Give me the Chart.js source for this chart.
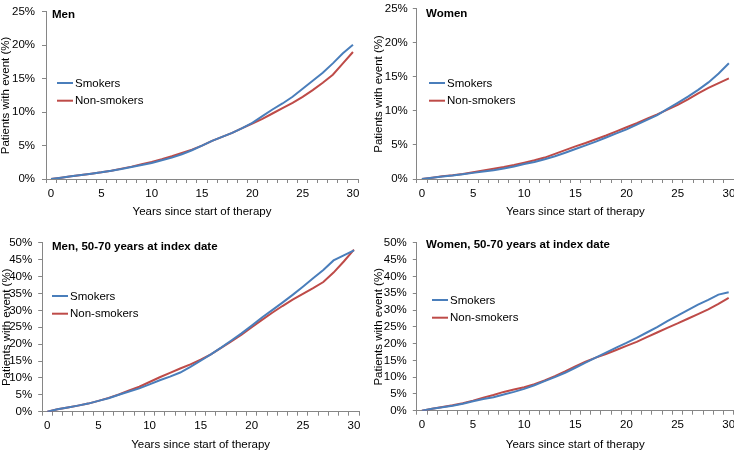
<!DOCTYPE html>
<html>
<head>
<meta charset="utf-8">
<script src="https://cdn.jsdelivr.net/npm/chart.js@4"></script>
<style>
  html, body { margin: 0; padding: 0; background: #fff; }
  body { width: 734px; height: 451px; position: relative; overflow: hidden; }
  canvas { position: absolute; }
</style>
</head>
<body>
<canvas id="men"></canvas>
<canvas id="women"></canvas>
<canvas id="men5070"></canvas>
<canvas id="women5070"></canvas>
<script>
// years since start of therapy
const years = Array.from({ length: 31 }, (_, i) => String(i));

// percent of patients with event
const menSmokers = [0, 0.2, 0.4, 0.6, 0.8, 1.0, 1.25, 1.5, 1.8, 2.1, 2.4, 2.8, 3.2, 3.7, 4.3, 5.0, 5.7, 6.3, 6.9, 7.6, 8.4, 9.4, 10.4, 11.3, 12.3, 13.5, 14.7, 15.9, 17.3, 18.8, 20.1];
const menNonSmokers = [0, 0.2, 0.4, 0.6, 0.8, 1.0, 1.25, 1.55, 1.85, 2.2, 2.55, 2.95, 3.4, 3.9, 4.4, 5.0, 5.7, 6.3, 6.9, 7.6, 8.3, 9.0, 9.8, 10.6, 11.4, 12.3, 13.3, 14.4, 15.6, 17.3, 19.0];
const womenSmokers = [0, 0.2, 0.35, 0.5, 0.7, 0.9, 1.1, 1.3, 1.55, 1.85, 2.2, 2.5, 2.9, 3.35, 3.85, 4.4, 4.95, 5.5, 6.1, 6.7, 7.3, 8.0, 8.7, 9.4, 10.3, 11.2, 12.1, 13.1, 14.2, 15.5, 17.0];
const womenNonSmokers = [0, 0.2, 0.4, 0.55, 0.75, 1.0, 1.25, 1.5, 1.75, 2.05, 2.4, 2.75, 3.15, 3.7, 4.25, 4.8, 5.3, 5.85, 6.4, 7.0, 7.6, 8.2, 8.85, 9.5, 10.2, 10.9, 11.7, 12.6, 13.4, 14.1, 14.8];
const men5070Smokers = [0, 0.7, 1.25, 1.8, 2.4, 3.2, 4.0, 5.0, 6.0, 6.9, 8.1, 9.3, 10.4, 11.6, 13.3, 15.1, 17.0, 19.0, 21.1, 23.2, 25.5, 27.9, 30.1, 32.3, 34.6, 37.0, 39.5, 42.0, 44.8, 46.3, 47.8];
const men5070NonSmokers = [0, 0.7, 1.25, 1.8, 2.4, 3.2, 4.1, 5.1, 6.3, 7.4, 8.8, 10.2, 11.5, 12.8, 14.0, 15.4, 17.0, 18.9, 20.8, 22.8, 25.0, 27.2, 29.3, 31.3, 33.2, 34.9, 36.6, 38.4, 41.2, 44.5, 48.0];
const women5070Smokers = [0, 0.6, 1.0, 1.5, 2.1, 2.8, 3.5, 4.0, 4.8, 5.6, 6.5, 7.6, 8.8, 10.0, 11.3, 12.8, 14.3, 15.8, 17.3, 18.8, 20.2, 21.7, 23.3, 24.9, 26.7, 28.3, 30.0, 31.6, 33.0, 34.6, 35.3];
const women5070NonSmokers = [0, 0.6, 1.1, 1.6, 2.2, 3.0, 3.9, 4.7, 5.6, 6.3, 7.0, 7.9, 9.0, 10.3, 11.7, 13.2, 14.6, 15.8, 16.9, 18.1, 19.3, 20.5, 21.9, 23.3, 24.7, 26.0, 27.4, 28.8, 30.2, 31.8, 33.6];

const seriesNames = ['Smokers', 'Non-smokers'];
const seriesColors = ['#4A7EBB', '#BE4B48'];

const FONT = 'Liberation Sans, Arial, sans-serif';
const AXIS_GREY = '#868686';

// panel placement, page pixels
const panels = [
  { id: 'men', title: 'Men', data: [menSmokers, menNonSmokers], yMax: 25,
    canvas: { x: 0, y: -2, w: 367, h: 227 }, plot: { l: 46, t: 5.8, r: 358, b: 179 },
    xTitleY: 212, yTitleX: 5.5, yTickPad: 7,
    titlePos: { x: 52, y: 15 }, legendPos: { x: 57, y: 83 } },
  { id: 'women', title: 'Women', data: [womenSmokers, womenNonSmokers], yMax: 25,
    canvas: { x: 367, y: -3, w: 380, h: 228 }, plot: { l: 416.8, t: 4.6, r: 734, b: 179 },
    xTitleY: 211.7, yTitleX: 379, yTickPad: 5,
    titlePos: { x: 426, y: 14 }, legendPos: { x: 429, y: 83 } },
  { id: 'men5070', title: 'Men, 50-70 years at index date', data: [men5070Smokers, men5070NonSmokers], yMax: 50,
    canvas: { x: 0, y: 230, w: 367, h: 221 }, plot: { l: 42.2, t: 238.3, r: 359.1, b: 411.7 },
    xTitleY: 445, yTitleX: 6.5, yTickPad: 6,
    titlePos: { x: 52, y: 246.7 }, legendPos: { x: 52, y: 296 } },
  { id: 'women5070', title: 'Women, 50-70 years at index date', data: [women5070Smokers, women5070NonSmokers], yMax: 50,
    canvas: { x: 367, y: 230, w: 380, h: 221 }, plot: { l: 416.8, t: 237.7, r: 733.8, b: 410.7 },
    xTitleY: 445, yTitleX: 379, yTickPad: 6,
    titlePos: { x: 426, y: 245 }, legendPos: { x: 432, y: 300 } }
];

// panel title + legend drawn inside the plot
const insideText = {
  id: 'insideText',
  afterDraw(chart, args, opts) {
    const ctx = chart.ctx;
    ctx.save();
    ctx.fillStyle = '#000';
    ctx.textBaseline = 'middle';
    ctx.textAlign = 'left';
    ctx.font = 'bold 11.5px ' + FONT;
    ctx.fillText(opts.title, opts.titleX, opts.titleY);
    ctx.font = '11.5px ' + FONT;
    chart.data.datasets.forEach((ds, i) => {
      const y = opts.legendY + i * 17.7;
      ctx.strokeStyle = ds.borderColor;
      ctx.lineWidth = 2;
      ctx.beginPath();
      ctx.moveTo(opts.legendX, y);
      ctx.lineTo(opts.legendX + 16, y);
      ctx.stroke();
      ctx.fillText(ds.label, opts.legendX + 18, y + 0.5);
    });
    ctx.restore();
  }
};

const TITLE_LH = 11.5;

panels.forEach(p => {
  const c = p.canvas;
  const el = document.getElementById(p.id);
  el.width = c.w;
  el.height = c.h;
  el.style.left = c.x + 'px';
  el.style.top = c.y + 'px';

  const yAxisWidth = p.plot.l - c.x;
  const xAxisHeight = c.y + c.h - p.plot.b;

  new Chart(el, {
    type: 'line',
    data: {
      labels: years,
      datasets: p.data.map((vals, i) => ({
        label: seriesNames[i],
        data: vals,
        borderColor: seriesColors[i],
        backgroundColor: seriesColors[i],
        borderWidth: 2,
        pointRadius: 0,
        tension: 0,
        fill: false
      }))
    },
    options: {
      responsive: false,
      animation: false,
      events: [],
      layout: {
        padding: { top: p.plot.t - c.y, right: c.x + c.w - p.plot.r, bottom: 0, left: 0 }
      },
      plugins: {
        legend: { display: false },
        tooltip: { enabled: false },
        insideText: {
          title: p.title,
          titleX: p.titlePos.x - c.x, titleY: p.titlePos.y - c.y,
          legendX: p.legendPos.x - c.x, legendY: p.legendPos.y - c.y
        }
      },
      scales: {
        x: {
          type: 'category',
          offset: true,
          grid: { display: true, offset: true, drawOnChartArea: false, tickLength: 4, color: AXIS_GREY },
          border: { color: AXIS_GREY },
          ticks: {
            autoSkip: false, maxRotation: 0, padding: 3.5, color: '#000',
            font: { family: FONT, size: 11.5 },
            callback: (v, i) => (i % 5 === 0 ? years[i] : '')
          },
          title: {
            display: true, text: 'Years since start of therapy', color: '#000',
            font: { family: FONT, size: 11.5, lineHeight: 1 },
            padding: { top: 0, bottom: c.y + c.h - p.xTitleY - TITLE_LH / 2 }
          },
          afterFit: s => { s.height = xAxisHeight; }
        },
        y: {
          min: 0, max: p.yMax,
          grid: { display: true, drawOnChartArea: false, tickLength: 4, color: AXIS_GREY },
          border: { color: AXIS_GREY },
          ticks: {
            stepSize: 5, autoSkip: false, padding: p.yTickPad, color: '#000',
            font: { family: FONT, size: 11.5 },
            callback: v => v + '%'
          },
          title: {
            display: true, text: 'Patients with event (%)', color: '#000',
            font: { family: FONT, size: 11.5, lineHeight: 1 },
            padding: { top: p.yTitleX - c.x - TITLE_LH / 2, bottom: 0 }
          },
          afterFit: s => { s.width = yAxisWidth; }
        }
      }
    },
    plugins: [insideText]
  });
});
</script>
</body>
</html>
